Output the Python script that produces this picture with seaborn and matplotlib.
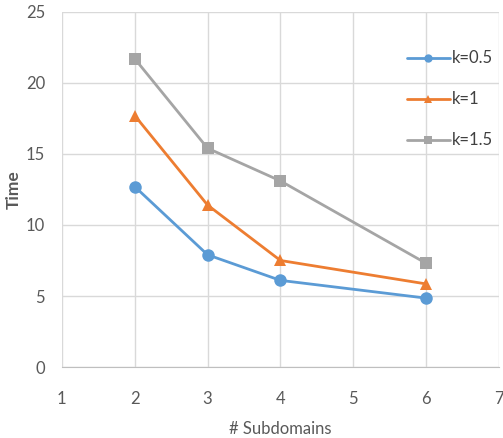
import pandas as pd
import seaborn as sns
import matplotlib.pyplot as plt

subdomains = [2, 3, 4, 6]
k_labels = ['k=0.5', 'k=1', 'k=1.5']
time_k05 = [12.7, 7.9, 6.1, 4.85]
time_k1 = [17.7, 11.4, 7.5, 5.85]
time_k15 = [21.7, 15.4, 13.1, 7.3]
colors = ['#5B9BD5', '#ED7D31', '#A5A5A5']

df = pd.DataFrame({
    'Subdomains': subdomains * 3,
    'Time': time_k05 + time_k1 + time_k15,
    'k': [k for k in k_labels for _ in subdomains],
})

sns.set_style('white')
plt.rcParams['font.family'] = ['Lato', 'DejaVu Sans']

fig = plt.figure(figsize=(5.03, 4.38), dpi=100)
ax = fig.add_axes([0.123, 0.162, 0.869, 0.811])

sns.lineplot(data=df, x='Subdomains', y='Time', hue='k', style='k',
             palette=colors, markers=['o', '^', 's'], dashes=False,
             markersize=9, linewidth=2, markeredgewidth=0, ax=ax)

ax.set_xlim(1, 7)
ax.set_ylim(0, 25)
ax.set_xticks(range(1, 8))
ax.set_yticks(range(0, 26, 5))
ax.grid(True, color='#D9D9D9', linewidth=1)
ax.set_axisbelow(True)
for s in ['top', 'right', 'left']:
    ax.spines[s].set_visible(False)
ax.spines['bottom'].set_color('#BFBFBF')
ax.tick_params(axis='x', length=0, labelsize=12, labelcolor='#595959', pad=17)
ax.tick_params(axis='y', length=0, labelsize=12, labelcolor='#595959', pad=12)

ax.set_xlabel('# Subdomains', fontsize=12, color='#595959', labelpad=10)
ax.set_ylabel('Time', fontsize=12.5, color='#595959', fontweight='bold', labelpad=3)

leg = ax.legend(loc='upper left', bbox_to_anchor=(0.77, 0.915), frameon=False,
                fontsize=12, labelspacing=1.5, handlelength=2.6, handletextpad=0.1,
                borderpad=0)
for h in leg.legend_handles:
    h.set_markersize(6)
for t in leg.get_texts():
    t.set_color('#404040')

fig.savefig('out.png', dpi=100)
